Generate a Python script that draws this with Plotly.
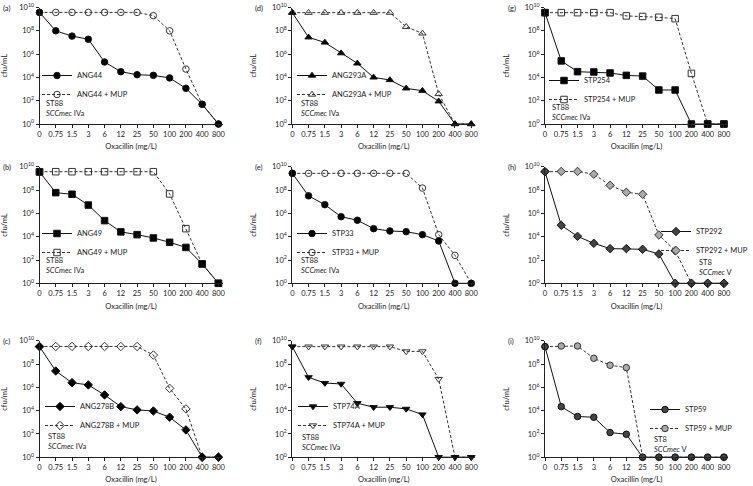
import plotly.graph_objects as go

W, H = 753, 486
doses = ["0", "0.75", "1.5", "3", "6", "12", "25", "50", "100", "200", "400", "800"]
ytick_vals = [1, 1e2, 1e4, 1e6, 1e8, 1e10]
ytick_text = ["10<sup>0</sup>", "10<sup>2</sup>", "10<sup>4</sup>", "10<sup>6</sup>", "10<sup>8</sup>", "10<sup>10</sup>"]

# cfu/mL values
ang44 = [3.8e9, 1.0e8, 3.5e7, 1.9e7, 2.1e5, 3.1e4, 1.7e4, 1.5e4, 9.0e3, 1.15e3, 49, 1]
ang44_mup = [3.8e9, 3.8e9, 3.8e9, 3.8e9, 3.8e9, 3.8e9, 3.8e9, 2.0e9, 1.0e8, 5.2e4, 49, 1]
ang49 = [3.6e9, 6.0e7, 4.4e7, 5.2e6, 2.4e5, 2.6e4, 1.5e4, 7.8e3, 3.3e3, 1.2e3, 46, 1]
ang49_mup = [3.8e9, 3.8e9, 3.8e9, 3.8e9, 3.8e9, 3.8e9, 3.8e9, 3.8e9, 4.7e7, 4.9e4, 46, 1]
ang278b = [3.1e9, 2.5e7, 2.5e6, 1.6e6, 2.2e5, 2.2e4, 1.15e4, 9.3e3, 2.7e3, 2.2e2, 1, 1]
ang278b_mup = [3.2e9, 3.2e9, 3.2e9, 3.2e9, 3.2e9, 3.2e9, 3.2e9, 5.9e8, 8.1e5, 1.4e4, 1, 1]
ang293a = [3.6e9, 2.75e7, 1.0e7, 1.2e6, 1.6e5, 1.0e4, 6.0e3, 1.15e3, 7.2e2, 89, 1, 1]
ang293a_mup = [3.6e9, 3.6e9, 3.6e9, 3.6e9, 3.6e9, 3.6e9, 3.6e9, 2.2e8, 6.0e7, 3.8e2, 1, 1]
stp33 = [2.75e9, 3.2e7, 5.6e6, 5.2e5, 2.6e5, 4.9e4, 3.1e4, 2.7e4, 1.5e4, 4.3e3, 1, 1]
stp33_mup = [2.75e9, 2.75e9, 2.75e9, 2.75e9, 2.75e9, 2.75e9, 2.75e9, 2.75e9, 1.5e8, 1.5e4, 2.5e2, 1]
stp74a = [3.1e9, 7.2e6, 2.3e6, 1.95e6, 4.3e4, 1.95e4, 1.95e4, 1.4e4, 4.6e3, 1, 1, 1]
stp74a_mup = [3.1e9, 3.1e9, 3.1e9, 3.1e9, 3.1e9, 3.1e9, 3.1e9, 1.2e9, 1.2e9, 5.1e6, 1, 1]
stp254 = [3.6e9, 2.6e5, 3.1e4, 2.9e4, 2.4e4, 1.5e4, 1.3e4, 8.3e2, 8.3e2, 1, 1, 1]
stp254_mup = [3.6e9, 3.6e9, 3.6e9, 3.6e9, 3.6e9, 1.9e9, 1.7e9, 1.45e9, 1.1e9, 2.2e4, 1, 1]
stp292 = [3.8e9, 9.5e4, 1.07e4, 2.7e3, 9.5e2, 9.5e2, 8.3e2, 3.3e2, 1, 1, 1, 1]
stp292_mup = [3.8e9, 4.0e9, 4.0e9, 2.3e9, 2.6e8, 6.5e7, 4.4e7, 1.4e4, 6.3e2, 1, 1, 1]
stp59 = [3.1e9, 2.2e4, 3.1e3, 2.7e3, 1.3e2, 93, 1, 1, 1, 1, 1, 1]
stp59_mup = [3.1e9, 3.5e9, 3.5e9, 3.1e8, 7.8e7, 4.9e7, 1, 1, 1, 1, 1, 1]

FONT = "Lato"
FS = 7.5

# pixel layout helpers
col_left = [39.5, 292.3, 545.0]
plot_w = 183.0
row_top = [7.5, 166.8, 340.7]
plot_h = 116.5

panels = [
    dict(lab="(a)", r=0, c=0, name="ANG44", y=ang44, ym=ang44_mup, sym="circle", symm="circle-open",
         fill="black", fillm="white", st="ST88", scc="IVa", leg=(37, 61), ann=(44, 97)),
    dict(lab="(b)", r=1, c=0, name="ANG49", y=ang49, ym=ang49_mup, sym="square", symm="square-open",
         fill="black", fillm="white", st="ST88", scc="IVa", leg=(37, 219), ann=(44, 254)),
    dict(lab="(c)", r=2, c=0, name="ANG278B", y=ang278b, ym=ang278b_mup, sym="diamond", symm="diamond-open",
         fill="black", fillm="white", st="ST88", scc="IVa", leg=(40, 392), ann=(46, 430)),
    dict(lab="(d)", r=0, c=1, name="ANG293A", y=ang293a, ym=ang293a_mup, sym="triangle-up", symm="triangle-up-open",
         fill="black", fillm="white", st="ST88", scc="IVa", leg=(292, 61), ann=(299, 97)),
    dict(lab="(e)", r=1, c=1, name="STP33", y=stp33, ym=stp33_mup, sym="circle", symm="circle-open",
         fill="black", fillm="white", st="ST88", scc="IVa", leg=(292, 219), ann=(299, 254)),
    dict(lab="(f)", r=2, c=1, name="STP74A", y=stp74a, ym=stp74a_mup, sym="triangle-down", symm="triangle-down-open",
         fill="black", fillm="white", st="ST88", scc="IVa", leg=(293, 392), ann=(300, 431)),
    dict(lab="(g)", r=0, c=2, name="STP254", y=stp254, ym=stp254_mup, sym="square", symm="square-open",
         fill="black", fillm="white", st="ST88", scc="IVa", leg=(544, 66), ann=(550, 101)),
    dict(lab="(h)", r=1, c=2, name="STP292", y=stp292, ym=stp292_mup, sym="diamond", symm="diamond",
         fill="#444444", fillm="#aaaaaa", st="ST8", scc="V", leg=None, ann=(697, 256)),
    dict(lab="(i)", r=2, c=2, name="STP59", y=stp59, ym=stp59_mup, sym="circle", symm="circle",
         fill="#444444", fillm="#aaaaaa", st="ST8", scc="V", leg=(645, 395), ann=(652, 433)),
]

fig = go.Figure()
annotations = []
layout = dict(
    width=W, height=H, showlegend=True,
    margin=dict(l=0, r=0, t=0, b=0, autoexpand=False),
    paper_bgcolor="white", plot_bgcolor="white",
    font=dict(family=FONT, size=FS, color="#222222"),
)

for i, p in enumerate(panels):
    k = i + 1
    xa = "xaxis" if k == 1 else f"xaxis{k}"
    ya = "yaxis" if k == 1 else f"yaxis{k}"
    xr = "x" if k == 1 else f"x{k}"
    yr = "y" if k == 1 else f"y{k}"
    lg = "legend" if k == 1 else f"legend{k}"
    x0 = col_left[p["c"]]
    y0 = row_top[p["r"]]
    layout[xa] = dict(
        domain=[x0 / W, (x0 + plot_w) / W], anchor=yr, type="category",
        range=[0, 11.25], showline=True, linecolor="#222222", linewidth=1,
        ticks="outside", ticklen=2.5, tickcolor="#222222", showgrid=False, zeroline=False,
        tickfont=dict(size=FS), title=dict(text="Oxacillin (mg/L)", font=dict(size=FS), standoff=6),
    )
    layout[ya] = dict(
        domain=[1 - (y0 + plot_h) / H, 1 - y0 / H], anchor=xr, type="log",
        range=[0, 10], showline=True, linecolor="#222222", linewidth=1,
        ticks="outside", ticklen=3, tickcolor="#222222", showgrid=False, zeroline=False,
        tickvals=ytick_vals, ticktext=ytick_text, tickfont=dict(size=FS),
        title=dict(text="cfu/mL", font=dict(size=FS), standoff=14),
    )
    mk = dict(symbol=p["symm"], size=6.5, line=dict(color="#333333", width=1))
    mk["color"] = "#333333" if "open" in p["symm"] else p["fillm"]
    # MUP (dashed) trace drawn first so the solid series sits on top
    fig.add_trace(go.Scatter(
        x=doses, y=p["ym"], xaxis=xr, yaxis=yr, name=p["name"] + " + MUP", legend=lg,
        legendrank=2, mode="lines+markers", cliponaxis=False,
        line=dict(color="#333333", width=1, dash="3px,2px"),
        marker=mk,
    ))
    fig.add_trace(go.Scatter(
        x=doses, y=p["y"], xaxis=xr, yaxis=yr, name=p["name"], legend=lg,
        legendrank=1, mode="lines+markers", cliponaxis=False,
        line=dict(color="#111111", width=1),
        marker=dict(symbol=p["sym"], size=6.5, color=p["fill"], line=dict(color="#111111", width=1)),
    ))
    if p["leg"] is None:
        legpos = dict(x=1.0, y=1 - 217 / H, xanchor="right", yanchor="top")
    else:
        lx, ly = p["leg"]
        legpos = dict(x=lx / W, y=1 - ly / H, xanchor="left", yanchor="top")
    layout[lg] = dict(
        **legpos,
        bgcolor="rgba(0,0,0,0)", font=dict(size=FS), itemwidth=30,
        tracegroupgap=0, traceorder="normal",
    )
    ax, ay = p["ann"]
    annotations.append(dict(
        xref="paper", yref="paper", x=ax / W, y=1 - ay / H, xanchor="left", yanchor="top",
        align="left", showarrow=False, text=f"{p['st']}<br><i>SCCmec</i> {p['scc']}",
        font=dict(size=FS),
    ))
    annotations.append(dict(
        xref="paper", yref="paper", x=1 / W if p["c"] == 0 else (x0 - 39) / W,
        y=1 - (y0 + 0.5) / H, xanchor="left", yanchor="middle", showarrow=False,
        text=p["lab"], font=dict(size=FS),
    ))

layout["annotations"] = annotations
fig.update_layout(**layout)
fig.write_html(
    "out.html",
    config={"displayModeBar": False},
    post_script="document.body.style.margin='0';document.body.style.overflow='hidden';",
)
